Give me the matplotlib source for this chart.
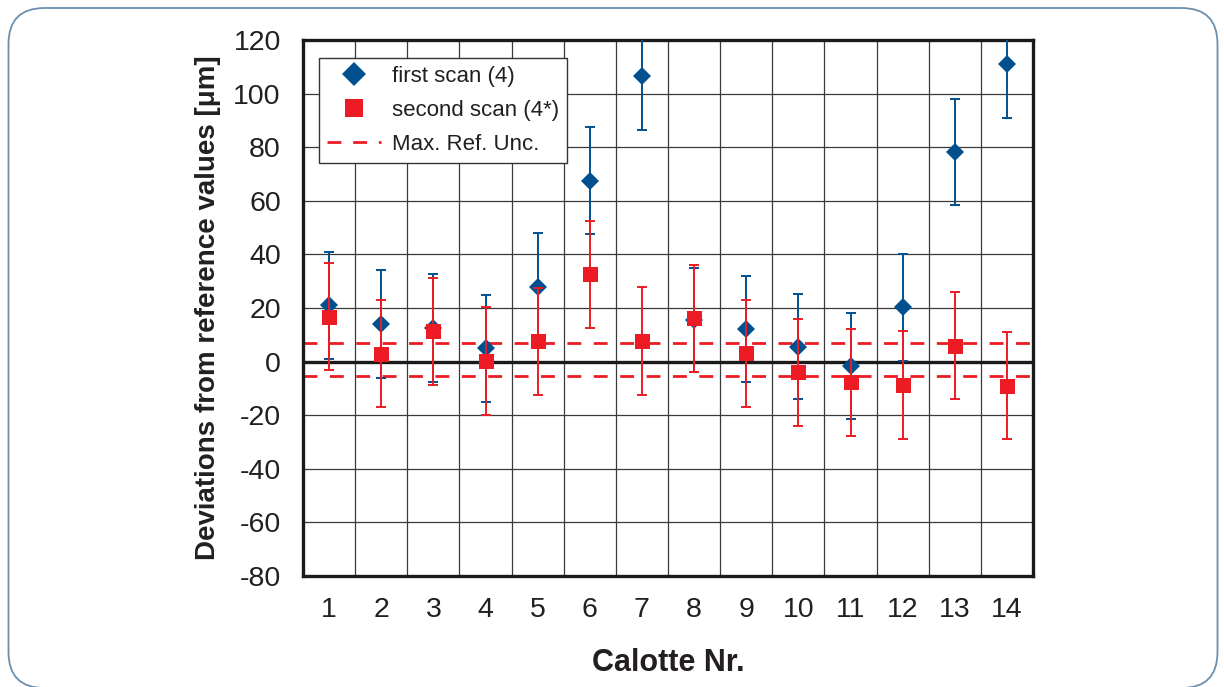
import matplotlib
matplotlib.use("Agg")
import matplotlib.pyplot as plt
from matplotlib.lines import Line2D
from matplotlib.patches import FancyBboxPatch

# ---- data ----
calottes = [1, 2, 3, 4, 5, 6, 7, 8, 9, 10, 11, 12, 13, 14]
first_scan = [21, 14, 12.5, 5, 28, 67.5, 106.5, 15.5, 12.2, 5.6, -1.6, 20.2, 78.2, 111]
first_err = [20, 20, 20, 20, 20, 20, 20, 19.5, 19.8, 19.7, 19.7, 20, 19.8, 20]
second_scan = [16.8, 3, 11.3, 0.2, 7.6, 32.6, 7.7, 16.2, 3.1, -4, -7.7, -8.7, 6, -9]
second_err = [20, 20, 20, 20, 20, 20, 20, 20, 20, 20, 20, 20, 20, 20]
ref_unc_upper = 7
ref_unc_lower = -5.5
y_ticks = [-80, -60, -40, -20, 0, 20, 40, 60, 80, 100, 120]

BLUE = "#00508f"
RED = "#ed1c24"
TXT = "#231f20"

plt.rcParams["font.family"] = ["Liberation Sans", "DejaVu Sans"]
plt.rcParams["lines.scale_dashes"] = False
plt.rcParams["axes.unicode_minus"] = False

fig = plt.figure(figsize=(12.24, 6.87), dpi=100)
fig.patch.set_facecolor("white")

# rounded frame around the figure (display pixel coords)
frame = FancyBboxPatch((8.5, -1), 1209, 680,
                       boxstyle="round,pad=0,rounding_size=36",
                       transform=None, facecolor="none",
                       edgecolor="#6b8fae", linewidth=1.3)
fig.patches.append(frame)

ax = fig.add_axes([303 / 1224, 1 - 576 / 687, 730 / 1224, 536 / 687])

ax.set_xlim(0.5, 14.5)
ax.set_ylim(-80, 120)

# grid
ax.set_yticks(y_ticks)
ax.set_xticks(calottes)
ax.set_xticks([c + 0.5 for c in calottes[:-1]], minor=True)
ax.grid(False)
ax.yaxis.grid(True, which="major", color="#3a3a3a", linewidth=0.9)
ax.xaxis.grid(True, which="minor", color="#3a3a3a", linewidth=0.9)
ax.set_axisbelow(True)

ax.axhline(0, color="#1a1a1a", linewidth=2.4, zorder=2)
ax.axhline(ref_unc_upper, color=RED, linewidth=2.0, dashes=(10, 9), zorder=2)
ax.axhline(ref_unc_lower, color=RED, linewidth=2.0, dashes=(10, 9), zorder=2)

# first scan
ax.errorbar(calottes, first_scan, yerr=first_err, fmt="none",
            ecolor=BLUE, elinewidth=1.4, capsize=3.8, capthick=1.4, zorder=3)
ax.plot(calottes, first_scan, linestyle="none", marker="D", color=BLUE,
        markersize=9, markeredgewidth=0, zorder=3.5)
# second scan
ax.errorbar(calottes, second_scan, yerr=second_err, fmt="none",
            ecolor=RED, elinewidth=1.4, capsize=3.8, capthick=1.4, zorder=4)
ax.plot(calottes, second_scan, linestyle="none", marker="s", color=RED,
        markersize=10.8, markeredgewidth=0, zorder=4.5)

for s in ax.spines.values():
    s.set_linewidth(2.4)
    s.set_color("#1a1a1a")

ax.tick_params(axis="both", which="both", length=0, labelsize=20.5,
               labelcolor=TXT)
ax.tick_params(axis="y", pad=16)
ax.tick_params(axis="x", pad=15)

ax.set_ylabel("Deviations from reference values [μm]", fontsize=20,
              fontweight="bold", color=TXT, labelpad=9)
ax.set_xlabel("Calotte Nr.", fontsize=22, fontweight="bold", color=TXT,
              labelpad=18)

handles = [
    Line2D([], [], linestyle="none", marker="D", color=BLUE, markersize=12,
           markeredgewidth=0),
    Line2D([], [], linestyle="none", marker="s", color=RED, markersize=12.5,
           markeredgewidth=0),
    Line2D([], [], color=RED, linewidth=2.0, dashes=(10, 8.5)),
]
labels = ["first scan (4)", "second scan (4*)", "Max. Ref. Unc."]
leg = ax.legend(handles, labels, loc="upper left",
                bbox_to_anchor=(0.022, 0.966), borderaxespad=0,
                fontsize=16, handlelength=2.45, handletextpad=0.5,
                borderpad=0.35, labelspacing=0.58, fancybox=False,
                framealpha=1, edgecolor="#333333")
leg.get_frame().set_linewidth(1.0)
for t in leg.get_texts():
    t.set_color(TXT)

fig.savefig("out.png", dpi=100)
